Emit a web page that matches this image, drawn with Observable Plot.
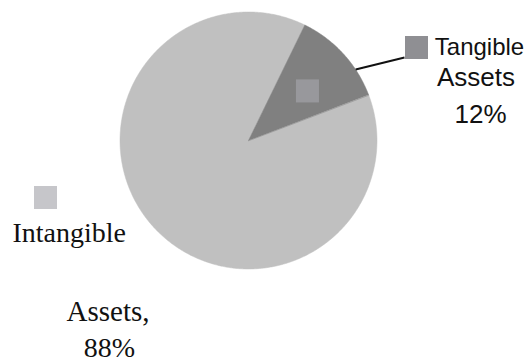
<!DOCTYPE html>
<html><head><meta charset="utf-8">
<script src="https://cdn.jsdelivr.net/npm/d3@7"></script>
<script src="https://cdn.jsdelivr.net/npm/@observablehq/plot@0.6"></script>
<style>body{margin:0;background:#fff}</style>
</head><body><div id="chart"></div>
<script>
// ---- data ----
const categories = ["Tangible Assets", "Intangible Assets"];
const shares = [12, 88];
const labelLines = [["Tangible", "Assets", "12%"], ["Intangible", "Assets,", "88%"]];

// ---- layout ----
const W = 526, H = 361;
const cx = 248, cy = 140, R = 128.5;
const startDeg = 26;
const sliceColors = ["#808080", "#c0c0c0"];
const SANS = "'Liberation Sans', Arial, sans-serif";
const SERIF = "'Liberation Serif', 'Times New Roman', serif";

const a0 = startDeg * Math.PI / 180;
const arcs = d3.pie().sort(null).startAngle(a0).endAngle(a0 + 2 * Math.PI)(shares);
const pt = (a, r) => [cx + r * Math.sin(a), cy - r * Math.cos(a)];

const slicePts = [];
// draw the large slice first, small one on top
[1, 0].forEach(i => {
  const a = arcs[i];
  const n = Math.max(2, Math.ceil((a.endAngle - a.startAngle) / (Math.PI / 360)));
  slicePts.push({cat: categories[i], x: cx, y: cy});
  for (let k = 0; k <= n; k++) {
    const t = a.startAngle + (a.endAngle - a.startAngle) * k / n;
    const [x, y] = pt(t, R);
    slicePts.push({cat: categories[i], x, y});
  }
});

// small marker inside the tangible slice
const tArc = arcs[0];
const [mx, my] = pt((tArc.startAngle + tArc.endAngle) / 2 + 0.05, R * 0.6);
const sq = 23;
const squares = [
  {x1: mx - sq / 2, x2: mx + sq / 2, y1: my - sq / 2, y2: my + sq / 2, fill: "#98989c"},
  {x1: 405, x2: 428, y1: 36, y2: 59, fill: "#8f8f93"},
  {x1: 34, x2: 57, y1: 186, y2: 209, fill: "#c6c6ca"}
];

// leader line
const [lx1, ly1] = pt(56.5 * Math.PI / 180, R);
const leader = [{x1: lx1, y1: ly1, x2: 404, y2: 57}];

const tangText = labelLines[0].map((t, i) => ({t, x: [479, 475.5, 480][i], y: [54.5, 85, 122][i], size: [24, 26, 26][i]}));
const intText = labelLines[1].map((t, i) => ({t, x: [12, 107.5, 109][i], y: [241.5, 320, 356][i], size: [28, 29, 28][i]}));

const chart = Plot.plot({
  width: W, height: H,
  margin: 0,
  x: {type: "linear", domain: [0, W], range: [0, W], axis: null},
  y: {type: "linear", domain: [0, H], range: [0, H], axis: null},
  color: {domain: categories, range: sliceColors},
  marks: [
    Plot.line(slicePts, {x: "x", y: "y", z: "cat", fill: "cat", stroke: "cat", strokeWidth: 0.5, curve: "linear-closed"}),
    Plot.rect(squares, {x1: "x1", x2: "x2", y1: "y1", y2: "y2", fill: d => d.fill}),
    Plot.link(leader, {x1: "x1", y1: "y1", x2: "x2", y2: "y2", stroke: "#111", strokeWidth: 2}),
    Plot.text(tangText, {x: "x", y: "y", text: "t", textAnchor: "middle", lineAnchor: "bottom",
      fontFamily: SANS, fontSize: "size", fill: "#111"}),
    Plot.text(intText.slice(0, 1), {x: "x", y: "y", text: "t", textAnchor: "start", lineAnchor: "bottom",
      fontFamily: SERIF, fontSize: "size", fill: "#111"}),
    Plot.text(intText.slice(1), {x: "x", y: "y", text: "t", textAnchor: "middle", lineAnchor: "bottom",
      fontFamily: SERIF, fontSize: "size", fill: "#111"})
  ]
});
document.getElementById("chart").appendChild(chart);
</script>
</body></html>
